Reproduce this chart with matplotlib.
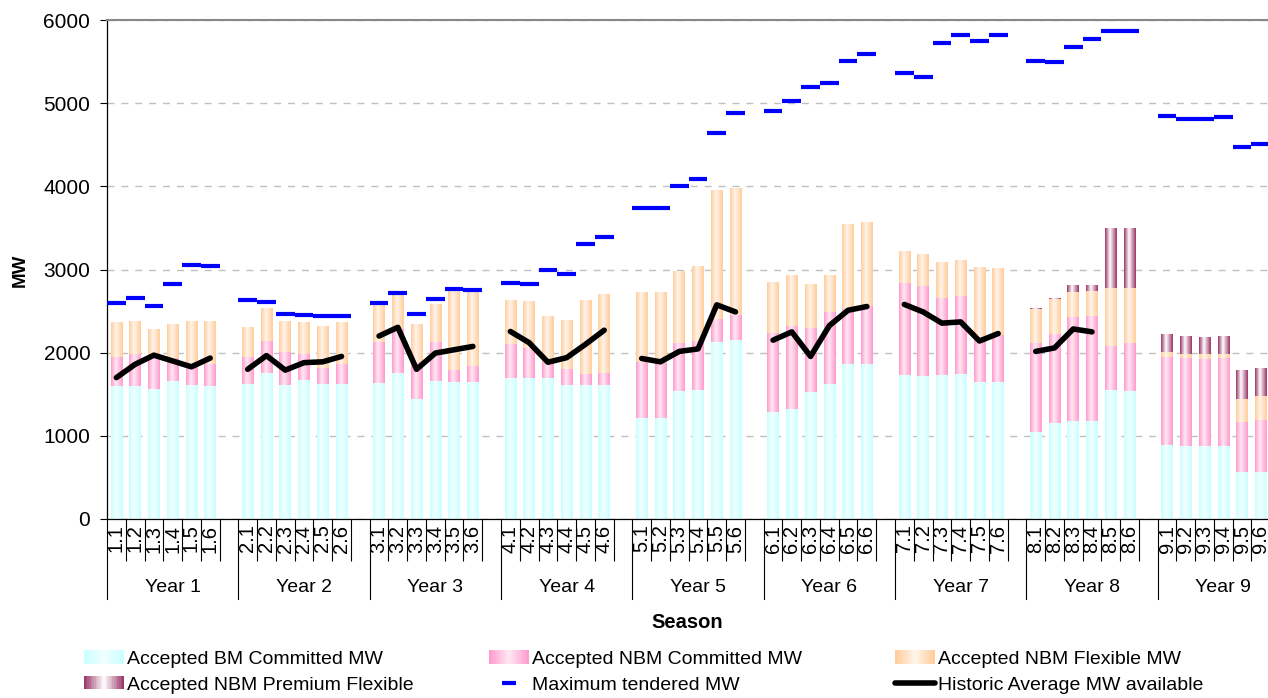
import numpy as np
import matplotlib
matplotlib.use("Agg")
import matplotlib.pyplot as plt
import matplotlib.transforms as mtransforms
from matplotlib.patches import Rectangle
from matplotlib.lines import Line2D
from matplotlib.legend_handler import HandlerBase
from matplotlib.colors import to_rgb

plt.rcParams['font.family'] = ['Liberation Sans', 'DejaVu Sans']

# ---------------- data ----------------
years = ['Year 1', 'Year 2', 'Year 3', 'Year 4', 'Year 5',
         'Year 6', 'Year 7', 'Year 8', 'Year 9']
seasons = ['1', '2', '3', '4', '5', '6']
season_labels = [f'{y}.{s}' for y in range(1, 10) for s in seasons]

nan = np.nan
bm_committed = [
    1600, 1600, 1560, 1665, 1615, 1600,
    1620, 1755, 1615, 1670, 1620, 1620,
    1635, 1755, 1440, 1660, 1647, 1647,
    1692, 1692, 1692, 1614, 1614, 1614,
    1217, 1217, 1543, 1556, 2127, 2148,
    1291, 1320, 1527, 1622, 1862, 1862,
    1726, 1717, 1730, 1742, 1647, 1647,
    1047, 1155, 1183, 1183, 1552, 1539,
    890, 877, 877, 877, 563, 563]
nbm_committed = [
    345, 385, 400, 270, 227, 260,
    323, 384, 393, 314, 190, 240,
    492, 525, 451, 468, 141, 190,
    414, 365, 199, 194, 132, 141,
    674, 653, 576, 583, 281, 302,
    944, 997, 770, 865, 658, 695,
    1109, 1089, 927, 939, 503, 567,
    1068, 1071, 1246, 1258, 525, 576,
    1055, 1055, 1047, 1055, 604, 625]
nbm_flexible = [
    410, 393, 324, 398, 538, 517,
    360, 385, 372, 381, 493, 493,
    439, 397, 451, 455, 939, 882,
    526, 562, 546, 584, 886, 947,
    836, 845, 860, 890, 1544, 1527,
    612, 609, 521, 434, 1014, 1010,
    384, 376, 430, 431, 867, 803,
    413, 414, 298, 298, 700, 662,
    62, 50, 58, 50, 273, 289]
nbm_premium = [
    0, 0, 0, 0, 0, 0,
    0, 0, 0, 0, 0, 0,
    0, 0, 0, 0, 0, 0,
    0, 0, 0, 0, 0, 0,
    0, 0, 0, 0, 0, 0,
    0, 0, 0, 0, 0, 0,
    0, 0, 0, 0, 0, 0,
    10, 10, 74, 71, 720, 720,
    215, 215, 203, 215, 339, 335]
max_tendered = [
    2600, 2660, 2565, 2820, 3055, 3040,
    2630, 2605, 2460, 2450, 2440, 2440,
    2600, 2720, 2470, 2650, 2760, 2755,
    2840, 2820, 2990, 2945, 3310, 3385,
    3740, 3740, 4000, 4085, 4640, 4885,
    4910, 5030, 5195, 5240, 5510, 5595,
    5365, 5315, 5725, 5820, 5750, 5820,
    5510, 5490, 5675, 5770, 5870, 5870,
    4840, 4810, 4810, 4830, 4470, 4505]
historic_avg = [
    1700, 1860, 1970, 1900, 1830, 1935,
    1800, 1965, 1790, 1880, 1890, 1955,
    2200, 2305, 1800, 1995, 2035, 2075,
    2255, 2120, 1885, 1940, 2100, 2270,
    1930, 1890, 2015, 2045, 2575, 2490,
    2150, 2250, 1955, 2325, 2510, 2555,
    2580, 2490, 2355, 2370, 2140, 2230,
    2015, 2057, 2285, 2250, nan, nan,
    nan, nan, nan, nan, nan, nan]

legend_labels = ['Accepted BM Committed MW', 'Accepted NBM Committed MW',
                 'Accepted NBM Flexible MW', 'Accepted NBM Premium Flexible',
                 'Maximum tendered MW', 'Historic Average MW available']

# ---------------- styling ----------------
C_BM = ('#C8FFFF', '#F2FFFF')
C_NC = ('#FF99CC', '#FFE8F3')
C_NF = ('#FFCC99', '#FFF4EA')
C_NP = ('#993366', '#FFFFFF')

W, H = 1268, 698
fig = plt.figure(figsize=(W / 100, H / 100), dpi=100)
ax_l, ax_t, ax_b, ax_r = 107, 20, 519, 1289
ax = fig.add_axes([ax_l / W, 1 - ax_b / H, (ax_r - ax_l) / W, (ax_b - ax_t) / H])

slots_per_year = 7
n_slots = slots_per_year * len(years)
xpos = np.array([slots_per_year * yi + si for yi in range(len(years))
                 for si in range(len(seasons))])


def gradient_row(edge, mid, n=64, center=0.42):
    t = (np.arange(n) + 0.5) / n
    f = np.where(t < center, t / center, (1 - t) / (1 - center))
    e = np.array(to_rgb(edge))
    m = np.array(to_rgb(mid))
    cols = e[None, :] * (1 - f[:, None]) + m[None, :] * f[:, None]
    return cols[None, :, :]


bar_w = 0.62


def grad_bars(values, bottom, colors):
    row = gradient_row(*colors)
    bars = ax.bar(xpos, values, bar_w, bottom=bottom, color='none',
                  edgecolor='none', zorder=2)
    for r in bars:
        h = r.get_height()
        if h <= 0:
            continue
        x0, y0 = r.get_xy()
        ax.imshow(row, extent=[x0, x0 + r.get_width(), y0, y0 + h],
                  aspect='auto', interpolation='bilinear', zorder=2)
    return bars


b0 = np.zeros(len(xpos))
grad_bars(bm_committed, b0, C_BM)
b1 = b0 + np.array(bm_committed)
grad_bars(nbm_committed, b1, C_NC)
b2 = b1 + np.array(nbm_committed)
grad_bars(nbm_flexible, b2, C_NF)
b3 = b2 + np.array(nbm_flexible)
grad_bars(nbm_premium, b3, C_NP)

ax.hlines(max_tendered, xpos - 0.5, xpos + 0.5, colors='#0000FF', lw=3.0,
          zorder=4, capstyle='butt')

hist_full = np.full(n_slots, np.nan)
hist_full[xpos] = historic_avg
ax.plot(np.arange(n_slots), hist_full, color='black', lw=4.0, zorder=5,
        solid_capstyle='round', solid_joinstyle='round')

ax.set_xlim(-0.5, n_slots - 0.5)
ax.set_ylim(0, 6000)

# y axis
ax.set_yticks(np.arange(0, 6001, 1000))
ax.tick_params(axis='y', labelsize=15, length=5, width=0.8, direction='out', pad=7)
ax.yaxis.grid(True, color='#C0C0C0', lw=1.0, linestyle=(0, (5, 5)))
ax.set_axisbelow(True)
ax.spines['right'].set_visible(False)
ax.spines['top'].set_color('#888888')
ax.spines['top'].set_linewidth(1.5)
ax.spines['left'].set_linewidth(0.9)
ax.spines['bottom'].set_linewidth(0.9)

# x axis: season labels, separators
ax.set_xticks(xpos)
ax.set_xticklabels(season_labels, rotation=90, fontsize=14.5, va='top')
ax.tick_params(axis='x', which='major', length=0, pad=4)
bounds = np.arange(0, n_slots + 1) - 0.5
year_bounds = np.arange(0, n_slots + 1, slots_per_year) - 0.5
short_bounds = [b for b in bounds if b not in set(year_bounds)]
ax.set_xticks(short_bounds, minor=True)
ax.tick_params(axis='x', which='minor', length=30, width=0.8, color='black')

trans = mtransforms.blended_transform_factory(ax.transData, ax.transAxes)
ax_h = ax_b - ax_t
for xb in year_bounds:
    ax.plot([xb, xb], [0, -80 / ax_h], transform=trans, color='black',
            lw=0.8, clip_on=False)
for yi, yname in enumerate(years):
    xc = slots_per_year * yi + (slots_per_year - 1) / 2
    ax.text(xc, -(587 - ax_b) / ax_h, yname, transform=trans, ha='center',
            va='center', fontsize=14)

fig.text(687 / W, 1 - 623 / H, 'Season', ha='center', va='center',
         fontsize=14.5, fontweight='bold')
fig.text(20 / W, 1 - 270 / H, 'MW', ha='center', va='center', rotation=90,
         fontsize=13.5, fontweight='bold')


# ---------------- legend ----------------
class GradientHandler(HandlerBase):
    def __init__(self, colors):
        super().__init__()
        self.row = gradient_row(*colors, n=24, center=0.5)

    def create_artists(self, legend, orig_handle, xdescent, ydescent,
                       width, height, fontsize, trans):
        n = self.row.shape[1]
        arts = []
        for i in range(n):
            arts.append(Rectangle((-xdescent + width * i / n, -ydescent),
                                  width / n * 1.1, height,
                                  facecolor=self.row[0, i], edgecolor='none',
                                  lw=0, transform=trans))
        return arts


h_bm = Rectangle((0, 0), 1, 1)
h_nc = Rectangle((0, 0), 1, 1)
h_nf = Rectangle((0, 0), 1, 1)
h_np = Rectangle((0, 0), 1, 1)
h_max = Line2D([], [], color='#0000FF', marker='_', markersize=10,
               markeredgewidth=3, linestyle='None')
h_hist = Line2D([], [], color='black', lw=4, solid_capstyle='round')
hmap = {h_bm: GradientHandler(C_BM), h_nc: GradientHandler(C_NC),
        h_nf: GradientHandler(C_NF), h_np: GradientHandler(C_NP)}

fs = 14
fs_px = fs * 100 / 72
columns = [([h_bm, h_np], [legend_labels[0], legend_labels[3]], 84),
           ([h_nc, h_max], [legend_labels[1], legend_labels[4]], 489),
           ([h_nf, h_hist], [legend_labels[2], legend_labels[5]], 895)]
for handles, labels, xl in columns:
    fig.legend(handles, labels, handler_map=hmap, loc='center left',
               bbox_to_anchor=(xl / W, 1 - 672 / H), frameon=False,
               fontsize=fs, borderpad=0, borderaxespad=0,
               handlelength=40 / fs_px, handleheight=13 / fs_px,
               handletextpad=0.15, labelspacing=0.42, numpoints=1)

fig.savefig('out.png', dpi=100)
